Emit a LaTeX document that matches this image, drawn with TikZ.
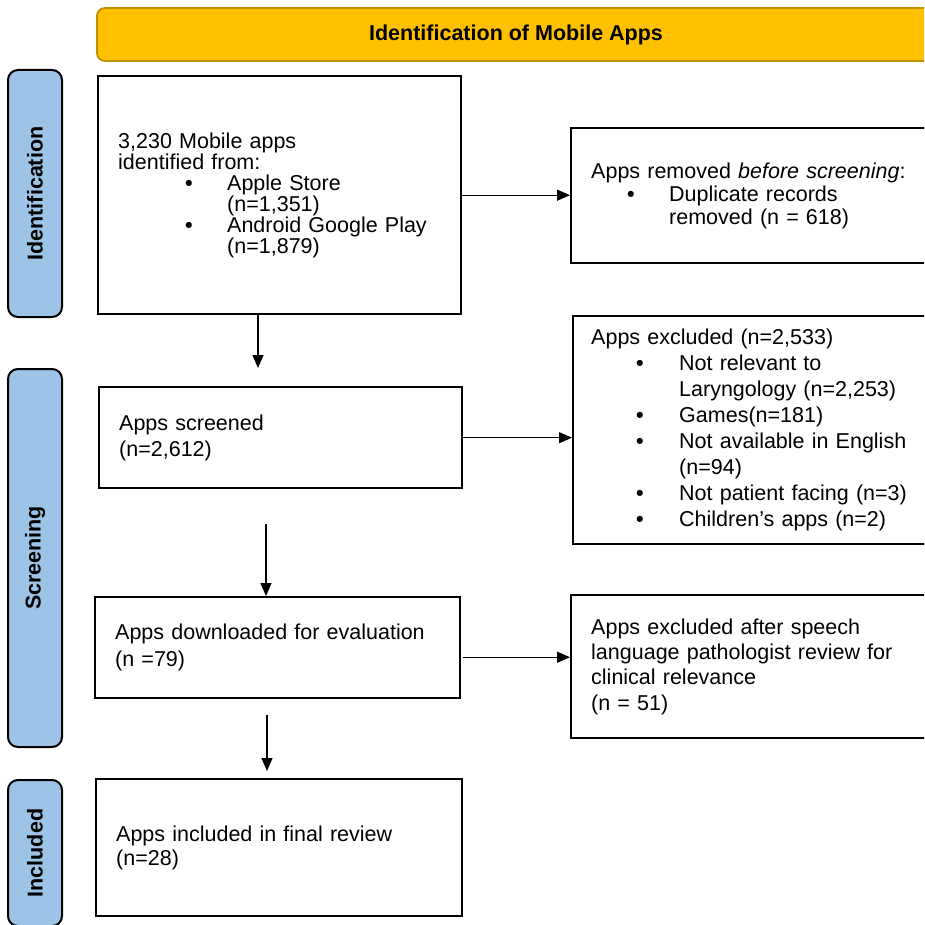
\documentclass[tikz,border=0pt]{standalone}
\usepackage{fontspec}
\setmainfont{Liberation Sans}
\usetikzlibrary{calc}
\usetikzlibrary{arrows.meta}

\definecolor{tabblue}{HTML}{9DC3E6}
\definecolor{titlegold}{HTML}{FFC000}
\definecolor{titleedge}{HTML}{BF9000}

% bullet line: indent, gap to item text
\newcommand{\bul}[2]{\hspace*{#1}\makebox[#2][l]{\textbf{\textbullet}}}

\begin{document}
\begin{tikzpicture}[x=1pt, y=-1pt, >=Stealth]

  % ---------- Styling ----------
  \tikzset{
    title/.style={fill=titlegold, draw=titleedge, line width=1.8pt, rounded corners=8pt,
      minimum width=838pt, minimum height=53pt, font=\bfseries\fontsize{21.5}{21.5}\selectfont},
    stage/.style={fill=tabblue, draw=black, line width=2pt, rounded corners=10pt,
      rotate=90, minimum height=54pt, font=\bfseries\fontsize{21.5}{21.5}\selectfont},
    box/.style={draw=black, line width=2.4pt, anchor=north west, align=left,
      inner xsep=20pt, inner ysep=0pt},
    lead/.style={font=\fontsize{21.5}{#1}\selectfont},
    flow/.style={-{Triangle[length=13pt, width=11pt]}, line width=1.2pt}
  }

  \clip (0,0) rectangle (924,925);

  % ---------- Header ----------
  \node[title] (title) at (516,34.5) {Identification of Mobile Apps};

  % ---------- Stage tabs ----------
  \node[stage, minimum width=247pt] (idtab) at (35,193.5) {Identification};
  \node[stage, minimum width=378pt] (screentab) at (35,558) {Screening};
  \node[stage, minimum width=146pt] (inctab) at (35,853) {Included};

  % ---------- Main column ----------
  \node[box, lead=20.9pt, text width=323pt, minimum height=238pt] (idbox) at (97,75) {
    3,230 Mobile apps\\
    identified from:\\
    \bul{67pt}{42pt}Apple Store\\
    \hspace*{109pt}(n=1,351)\\
    \bul{67pt}{42pt}Android Google Play\\
    \hspace*{109pt}(n=1,879)};

  \node[box, lead=26pt, text width=323pt, minimum height=101pt] (screened) at (98,386) {
    Apps screened\\
    (n=2,612)};

  \node[box, lead=27pt, text width=325pt, minimum height=101pt] (downloaded) at (94,596) {
    Apps downloaded for evaluation\\
    (n =79)};

  \node[box, lead=24pt, text width=326pt, minimum height=137pt] (included) at (95,778) {
    Apps included in final review\\
    (n=28)};

  % ---------- Side column ----------
  \node[box, lead=23pt, text width=325pt, minimum height=135pt] (removed) at (570,127) {
    Apps removed \textit{before screening}:\\
    \bul{36pt}{42pt}Duplicate records\\
    \hspace*{78pt}removed (n = 618)};

  \node[box, lead=26pt, inner xsep=18pt, text width=327pt, minimum height=228pt] (excluded) at (572,315) {
    Apps excluded (n=2,533)\\
    \bul{45pt}{43pt}Not relevant to\\
    \hspace*{88pt}Laryngology (n=2,253)\\
    \bul{45pt}{43pt}Games(n=181)\\
    \bul{45pt}{43pt}Not available in English\\
    \hspace*{88pt}(n=94)\\
    \bul{45pt}{43pt}Not patient facing (n=3)\\
    \bul{45pt}{43pt}Children’s apps (n=2)};

  \node[box, lead=25.3pt, text width=325pt, minimum height=143pt] (slp) at (570,594) {
    Apps excluded after speech\\
    language pathologist review for\\
    clinical relevance\\
    (n = 51)};

  % ---------- Arrows ----------
  \coordinate (a1e) at (258,368);
  \coordinate (a2s) at (266,524);
  \coordinate (a3s) at (267,715);
  \coordinate (a3e) at (267,771);
  \coordinate (h3s) at ($(downloaded.east)+(2,9.5)$);

  \draw[flow] ($(idbox.south west)+(161,0)$) -- (a1e);
  \draw[flow] (a2s) -- (a2s |- downloaded.north);
  \draw[flow] (a3s) -- (a3e);

  \draw[flow] (idbox.east) -- (idbox.east -| removed.west);
  \draw[flow] (screened.east) -- (screened.east -| excluded.west);
  \draw[flow] (h3s) -- (h3s -| slp.west);

\end{tikzpicture}
\end{document}
